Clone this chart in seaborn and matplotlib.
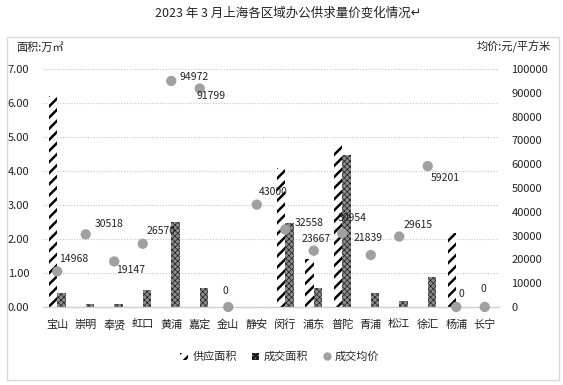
import numpy as np
import pandas as pd
import matplotlib
matplotlib.use("Agg")
import matplotlib.pyplot as plt
import seaborn as sns
from matplotlib.patches import Rectangle, Patch
from matplotlib.lines import Line2D
from matplotlib.ticker import FormatStrFormatter

# === DATA ===
DISTRICTS = ["宝山", "崇明", "奉贤", "虹口", "黄浦", "嘉定", "金山", "静安",
             "闵行", "浦东", "普陀", "青浦", "松江", "徐汇", "杨浦", "长宁"]
SUPPLY = [6.20, 0, 0, 0, 0, 0, 0, 0, 4.09, 1.41, 4.76, 0, 0, 0, 2.18, 0]
DEAL = [0.40, 0.08, 0.08, 0.50, 2.50, 0.55, 0, 0, 2.47, 0.55, 4.47, 0.40, 0.17, 0.88, 0, 0]
PRICE = [14968, 30518, 19147, 26570, 94972, 91799, 0, 43000,
         32558, 23667, 30954, 21839, 29615, 59201, 0, 0]
SERIES = ["供应面积", "成交面积", "成交均价"]

# label offsets (px, up positive) for each price label
LABEL_OFFSETS = [(16, 12), (23, 10), (16, -9), (18, 13), (23, 4), (11, -7), (-3, 16), (16, 13),
                 (24, 7), (2, 12), (10, 15), (-3, 17), (19, 12), (17, -12), (5, 13), (-1, 18)]

# === STYLE ===
sns.set_theme(style="white")
plt.rcParams["font.family"] = ["Noto Sans CJK SC", "DejaVu Sans"]
plt.rcParams["hatch.linewidth"] = 1.8
plt.rcParams["axes.unicode_minus"] = False

W, H = 563, 385
fig = plt.figure(figsize=(W / 100, H / 100), dpi=100)
ax = fig.add_axes([43 / W, 1 - 307 / H, 456 / W, 238 / H])

df = pd.DataFrame({
    "区域": DISTRICTS * 2,
    "面积": SUPPLY + DEAL,
    "类型": [SERIES[0]] * len(DISTRICTS) + [SERIES[1]] * len(DISTRICTS),
})
sns.barplot(data=df, x="区域", y="面积", hue="类型", order=DISTRICTS,
            hue_order=SERIES[:2], width=0.58, palette=["white", "white"],
            saturation=1, legend=False, ax=ax)

for p in ax.containers[0]:
    p.set_facecolor("white")
    p.set_edgecolor("black")
    p.set_linewidth(0)
    p.set_hatch("///")
for p in ax.containers[1]:
    p.set_facecolor("#8c8c8c")
    p.set_edgecolor("#1e1e1e")
    p.set_linewidth(0)
    p.set_hatch("xxxxxx")
    if hasattr(p, "set_hatch_linewidth"):
        p.set_hatch_linewidth(0.5)

ax.set_ylim(0, 7)
ax.set_yticks(np.arange(0, 8))
ax.yaxis.set_major_formatter(FormatStrFormatter("%.2f"))
ax.yaxis.grid(True, linestyle=(0, (1, 1.5)), color="#c4c4c4", linewidth=0.8)
ax.set_axisbelow(True)
for s in ["top", "left", "right"]:
    ax.spines[s].set_visible(False)
ax.spines["bottom"].set_color("#d0d0d0")
ax.spines["bottom"].set_linewidth(1)
ax.tick_params(axis="y", length=0, labelsize=8, pad=10, colors="#222222")
ax.tick_params(axis="x", length=0, labelsize=8, pad=9, colors="#222222")
ax.set_xlabel("")
ax.set_ylabel("")

# === PRICE (secondary axis) ===
ax2 = ax.twinx()
sns.scatterplot(x=np.arange(len(DISTRICTS)), y=PRICE, ax=ax2, s=55,
                color="#a0a0a0", edgecolor="none", clip_on=False, zorder=5)
ax2.set_ylim(0, 100000)
ax2.set_yticks(np.arange(0, 100001, 10000))
for s in ax2.spines.values():
    s.set_visible(False)
ax2.tick_params(axis="y", length=0, labelsize=8, pad=9, colors="#222222")
ax2.set_ylabel("")
ax.set_xlim(-0.5, len(DISTRICTS) - 0.5)
ax2.set_xlim(-0.5, len(DISTRICTS) - 0.5)

for i, (v, (dx, dy)) in enumerate(zip(PRICE, LABEL_OFFSETS)):
    ax2.annotate(str(v), (i, v), xytext=(dx * 0.72, dy * 0.72),
                 textcoords="offset points", ha="center", va="center",
                 fontsize=7.5, color="#222222", zorder=6, annotation_clip=False)

# === TEXT / FRAME ===
fig.text(288 / W, 1 - 13 / H, "2023 年 3 月上海各区域办公供求量价变化情况↵",
         ha="center", va="center", fontsize=9, color="#222222")
fig.text(16 / W, 1 - 47 / H, "面积:万㎡", ha="left", va="center", fontsize=8, color="#222222")
fig.text(551 / W, 1 - 47 / H, "均价:元/平方米", ha="right", va="center", fontsize=8, color="#222222")
fig.add_artist(Rectangle((7 / W, 1 - 380 / H), 552 / W, 343 / H, transform=fig.transFigure,
                         fill=False, edgecolor="#d9d9d9", linewidth=1))

handles = [
    Patch(facecolor="white", edgecolor="black", linewidth=0, hatch="///"),
    Patch(facecolor="#8c8c8c", edgecolor="#1e1e1e", linewidth=0, hatch="xxxxxx"),
    Line2D([], [], marker="o", linestyle="none", markersize=6,
           markerfacecolor="#a0a0a0", markeredgecolor="none"),
]
fig.legend(handles, SERIES, loc="center", bbox_to_anchor=(280 / W, 1 - 357 / H),
           ncol=3, frameon=False, fontsize=8, handlelength=0.7, handleheight=0.7,
           handletextpad=0.4, columnspacing=1.3)

fig.savefig("out.png", dpi=100)
